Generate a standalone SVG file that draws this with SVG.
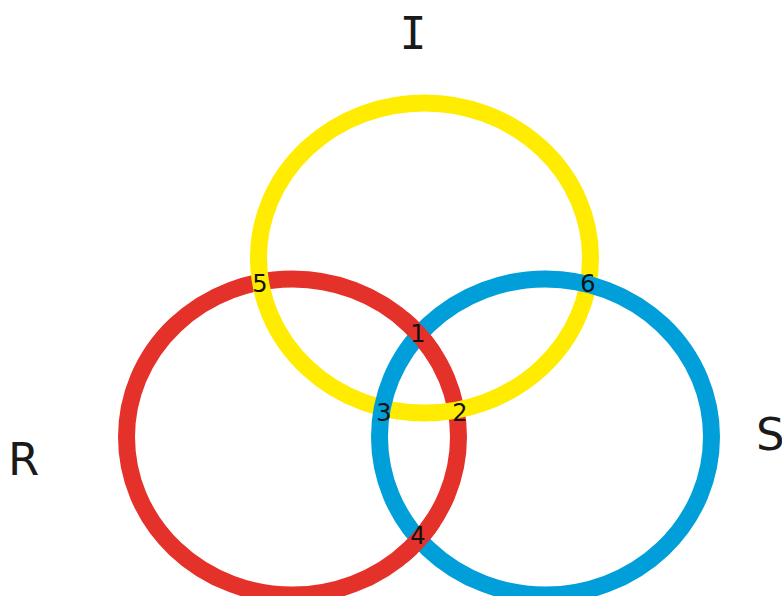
<svg xmlns="http://www.w3.org/2000/svg" width="782" height="596" viewBox="0 0 782 596">
<style>
.ring{fill:none;stroke-width:17}
.red{stroke:#E4322B}
.yel{stroke:#FFEC00}
.blu{stroke:#009FDA}
.num{font-family:"DejaVu Sans","Liberation Sans",sans-serif;font-size:24px;fill:#111;text-anchor:middle}
.lab{font-family:"DejaVu Sans","Liberation Sans",sans-serif;font-size:45px;fill:#1a1a1a}
</style>
<defs>
<clipPath id="c1"><circle cx="419" cy="335" r="26"/></clipPath>
<clipPath id="c4"><circle cx="419" cy="540" r="26"/></clipPath>
</defs>
<rect width="782" height="596" fill="#fff"/>
<g id="ring-R"><ellipse class="ring red" cx="292.5" cy="437" rx="166" ry="158"/></g>
<g id="ring-I"><ellipse class="ring yel" cx="424.5" cy="258" rx="166" ry="155"/></g>
<g id="ring-S"><ellipse class="ring blu" cx="545.5" cy="437" rx="166" ry="158"/></g>
<g id="ring-R-over">
<ellipse class="ring red" cx="292.5" cy="437" rx="166" ry="158" clip-path="url(#c1)"/>
<ellipse class="ring red" cx="292.5" cy="437" rx="166" ry="158" clip-path="url(#c4)"/>
</g>
<g id="labels">
<text class="lab" x="413" y="49" text-anchor="middle" style="font-family:'DejaVu Sans Mono',monospace">I</text>
<text class="lab" x="8" y="475">R</text>
<text class="lab" x="756" y="450">S</text>
</g>
<g id="points">
<text class="num" x="260" y="292">5</text>
<text class="num" x="588" y="292">6</text>
<text class="num" x="418" y="342">1</text>
<text class="num" x="384" y="421">3</text>
<text class="num" x="460" y="421">2</text>
<text class="num" x="418" y="544">4</text>
</g>
</svg>
